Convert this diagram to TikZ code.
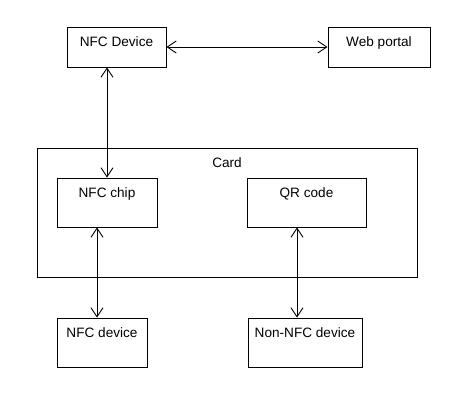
\documentclass[tikz,border=0pt]{standalone}
\usepackage{fontspec}
\setmainfont{Liberation Sans}
\usetikzlibrary{arrows.meta}

\begin{document}
\begin{tikzpicture}[
      x=1pt, y=-1pt,
      font=\fontsize{13.6}{16}\selectfont,
      box/.style={draw, line width=0.9pt, inner sep=0pt, text height=19.5pt},
      short/.style={box, text depth=20.5pt},
      tall/.style={box, text depth=29.5pt},
      link/.style={line width=0.9pt,
                   {Straight Barb[length=9pt,width=12pt]}-{Straight Barb[length=9pt,width=12pt]}}]

    \useasboundingbox (0,0) rectangle (466,403);

    \node[short, minimum width=99pt] (nfcdev) at (116.5,47) {NFC Device};
    \node[short, minimum width=102pt] (web) at (379,47) {Web portal};

    \node[box, minimum width=380pt, text depth=109.5pt] (card) at (227,212.5) {Card};
    \node[tall, minimum width=100pt] (chip) at (107,202.5) {NFC chip};
    \node[tall, minimum width=119pt] (qr) at (306.5,202.5) {QR code};

    \node[tall, minimum width=90pt] (nfclow) at (102,342.5) {NFC device};
    \node[tall, minimum width=114pt] (other) at (305,342.5) {Non-NFC device};

    \draw[link] (nfcdev) -- (web);
    \draw[link] (nfcdev.south -| chip.north) -- (chip.north);
    \draw[link] ([xshift=-10pt]chip.south) -- ([xshift=-10pt]chip.south |- nfclow.north);
    \draw[link] ([xshift=-9.5pt]qr.south) -- ([xshift=-9.5pt]qr.south |- other.north);
  \end{tikzpicture}
\end{document}
